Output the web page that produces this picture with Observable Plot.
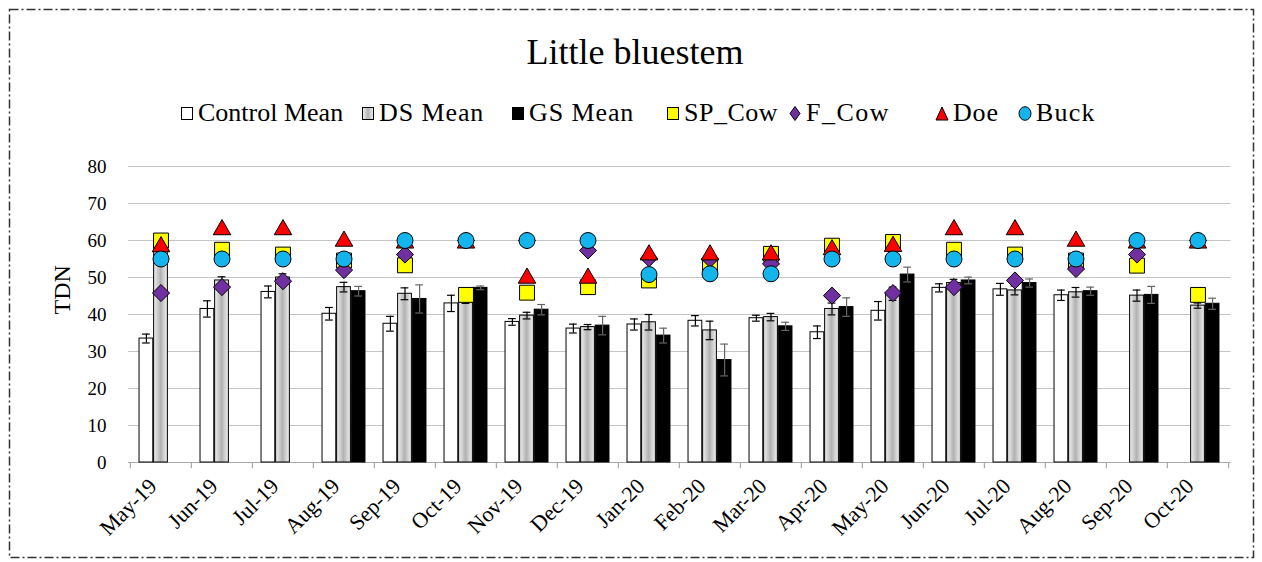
<!DOCTYPE html>
<html><head><meta charset="utf-8">
<script src="https://cdn.jsdelivr.net/npm/d3@7"></script>
<script src="https://cdn.jsdelivr.net/npm/@observablehq/plot@0.6"></script>
<style>
body{margin:0;background:#fff;}
#wrap{position:relative;width:1262px;height:562px;overflow:hidden;font-family:"Liberation Serif","Times New Roman",serif;color:#000;}
#title{position:absolute;top:31px;left:4px;width:1262px;text-align:center;font-size:36px;line-height:normal;}
#legend{position:absolute;top:98px;left:0;width:1262px;height:32px;font-size:26px;line-height:normal;white-space:nowrap;}
.item{position:absolute;top:0;display:flex;align-items:center;}
.item svg{margin-right:4px;}
#chart{position:absolute;top:140px;left:0;}
#border{position:absolute;top:0;left:0;pointer-events:none;}
</style></head>
<body>
<div id="wrap">
  <div id="title">Little bluestem</div>
  <div id="legend"></div>
  <div id="chart"></div>
  <svg id="border" width="1262" height="562"><rect x="9.5" y="9.5" width="1244" height="548" fill="none" stroke="#333" stroke-width="1.5" stroke-dasharray="9,3,2,3"/></svg>
</div>
<script>
const months = ["May-19","Jun-19","Jul-19","Aug-19","Sep-19","Oct-19","Nov-19","Dec-19","Jan-20","Feb-20","Mar-20","Apr-20","May-20","Jun-20","Jul-20","Aug-20","Sep-20","Oct-20"];
const controlMean = [33.5,41.5,46.1,40.2,37.5,43.0,38.0,36.2,37.3,38.3,39.0,35.2,41.0,47.2,46.8,45.2,null,null];
const controlErr  = [1.2,2.2,1.6,1.7,2.0,2.2,0.9,1.2,1.5,1.4,0.8,1.7,2.5,1.1,1.6,1.4,null,null];
const dsMean = [58.0,49.2,50.0,47.4,45.6,44.0,39.7,36.6,37.9,35.7,39.3,41.5,45.6,48.5,46.5,46.0,45.1,42.4];
const dsErr  = [1.0,1.0,1.0,1.3,1.6,1.0,0.9,0.7,2.1,2.5,1.0,1.6,1.8,1.0,1.2,1.3,1.5,0.7];
const gsMean = [null,null,null,46.3,44.2,47.2,41.3,37.0,34.3,27.7,36.8,42.0,50.8,49.2,48.5,46.3,45.3,42.9];
const gsErr  = [null,null,null,1.3,3.8,0.5,1.4,2.5,2.0,4.3,1.1,2.5,2.0,0.9,1.1,1.1,2.3,1.5];
const spCow = [60.0,57.5,56.2,54.6,53.3,45.3,45.9,47.4,49.2,53.2,56.4,58.6,59.6,57.5,56.2,54.6,53.2,45.3];
const fCow  = [45.8,47.4,49.0,52.0,56.2,60.0,60.0,57.3,55.2,55.0,53.7,45.1,45.8,47.4,49.2,52.3,56.2,60.0];
const doe   = [59.0,63.6,63.6,60.5,60.0,60.0,50.5,50.5,56.8,56.8,56.8,58.2,59.1,63.6,63.6,60.5,60.0,60.0];
const buck  = [55,55,55,55,60,60,60,60,50.8,51,51,55,55,55,55,55,60,60];
const yTicks = [0,10,20,30,40,50,60,70,80];
const legendLabels = ["Control Mean","DS Mean","GS Mean","SP_Cow","F_Cow","Doe","Buck"];

const rows = months.map((m,i)=>({month:m, control:controlMean[i], controlErr:controlErr[i], ds:dsMean[i], dsErr:dsErr[i], gs:gsMean[i], gsErr:gsErr[i], sp:spCow[i], f:fCow[i], doe:doe[i], buck:buck[i]}));

const left = 128, right = 1230.5;
const BW = (right-left)/months.length;
const barW = 14, step = 14.6, inset = (BW-barW)/2, cap = 4;
const num = v => (v==null ? NaN : v);

const series = [
  {key:"control", err:"controlErr", dx:-step, fill:"white", es:"#000"},
  {key:"ds", err:"dsErr", dx:0, fill:"url(#dsgrad)", es:"#000"},
  {key:"gs", err:"gsErr", dx:step, fill:"black", es:"#666"}
];

const marks = [
  Plot.gridY(yTicks.filter(t=>t>0), {stroke:"#c4c4c4", strokeOpacity:1, strokeWidth:1.2}),
  Plot.ruleY([0], {stroke:"#a8a8a8", strokeWidth:1.2}),
  Plot.ruleX(months, {x:d=>d, dx:-BW/2, y1:0, y2:-1.7, stroke:"#a8a8a8", strokeWidth:1.2}),
  Plot.ruleX(months.slice(-1), {x:d=>d, dx:BW/2, y1:0, y2:-1.7, stroke:"#a8a8a8", strokeWidth:1.2}),
  Plot.axisX({tickSize:0, tickRotate:-45, tickPadding:20, dx:-8, fontSize:22, label:null}),
  Plot.axisY({ticks:yTicks, tickSize:0, tickPadding:22, fontSize:19, label:null}),
  Plot.text(["TDN"], {frameAnchor:"left", rotate:-90, dx:-66, fontSize:24})
];
for (const s of series) {
  marks.push(
    Plot.rectY(rows, {x:"month", y1:0, y2:d=>num(d[s.key]), dx:s.dx, insetLeft:inset, insetRight:inset, fill:s.fill, stroke:"#000", strokeWidth:1}),
    Plot.ruleX(rows, {x:"month", y1:d=>num(d[s.key])-num(d[s.err]), y2:d=>num(d[s.key])+num(d[s.err]), dx:s.dx, stroke:s.es, strokeWidth:1.2}),
    Plot.tickY(rows, {x:"month", y:d=>num(d[s.key])+num(d[s.err]), dx:s.dx, insetLeft:BW/2-cap, insetRight:BW/2-cap, stroke:s.es, strokeWidth:1.2}),
    Plot.tickY(rows, {x:"month", y:d=>num(d[s.key])-num(d[s.err]), dx:s.dx, insetLeft:BW/2-cap, insetRight:BW/2-cap, stroke:s.es, strokeWidth:1.2})
  );
}
marks.push(
  Plot.dot(rows, {x:"month", y:"sp", symbol:"square", r:8.4, fill:"#ffff00", stroke:"#000", strokeWidth:1}),
  Plot.dot(rows, {x:"month", y:"f", symbol:"diamond2", r:7.7, fill:"#7030a0", stroke:"#000", strokeWidth:1}),
  Plot.dot(rows, {x:"month", y:"doe", symbol:"triangle", r:6.5, dy:2.5, fill:"#ff0000", stroke:"#000", strokeWidth:1}),
  Plot.dot(rows, {x:"month", y:"buck", symbol:"circle", r:8, fill:"#14b4ec", stroke:"#000", strokeWidth:1})
);

const chart = Plot.plot({
  width:1262, height:422,
  marginLeft:left, marginRight:1262-right, marginTop:26, marginBottom:100,
  style:{fontFamily:"'Liberation Serif','Times New Roman',serif", color:"#000", background:"transparent", overflow:"visible"},
  x:{type:"band", domain:months, padding:0, axis:null},
  y:{domain:[0,80], axis:null},
  marks
});
const defs = document.createElementNS("http://www.w3.org/2000/svg","defs");
defs.innerHTML = '<linearGradient id="dsgrad" x1="0" x2="1" y1="0" y2="0"><stop offset="0" stop-color="#f0f0f0"/><stop offset="0.5" stop-color="#b2b2b2"/><stop offset="1" stop-color="#f0f0f0"/></linearGradient>';
chart.prepend(defs);
document.getElementById("chart").appendChild(chart);

// legend
const legendStyle = [
  {shape:"rect", fill:"#fff", x:180, ls:0},
  {shape:"rect", fill:"url(#lgrad)", x:361, ls:0.9},
  {shape:"rect", fill:"#000", x:511, ls:0.9},
  {shape:"rect", fill:"#ffff00", x:666, ls:0.5},
  {shape:"diamond", fill:"#7030a0", x:788, ls:1.5},
  {shape:"triangle", fill:"#ff0000", x:935, ls:0.8},
  {shape:"circle", fill:"#14b4ec", x:1018, ls:1.2}
];
const lg = document.getElementById("legend");
legendLabels.forEach((label,i)=>{
  const it = legendStyle[i];
  const div = document.createElement("div"); div.className = "item"; div.style.left = it.x + "px";
  let shp;
  if (it.shape==="rect") shp = `<rect x="1.5" y="1.5" width="11" height="12" fill="${it.fill}" stroke="#000" stroke-width="1"/>`;
  else if (it.shape==="diamond") shp = `<path d="M7,0.5L12,7.5L7,14.5L2,7.5Z" fill="${it.fill}" stroke="#000"/>`;
  else if (it.shape==="triangle") shp = `<path d="M7,1L13,14L1,14Z" fill="${it.fill}" stroke="#000"/>`;
  else shp = `<ellipse cx="7" cy="7.5" rx="6" ry="6.8" fill="${it.fill}" stroke="#000"/>`;
  div.innerHTML = `<svg width="14" height="15"><defs><linearGradient id="lgrad" x1="0" x2="1"><stop offset="0" stop-color="#f0f0f0"/><stop offset="0.5" stop-color="#b2b2b2"/><stop offset="1" stop-color="#f0f0f0"/></linearGradient></defs>${shp}</svg><span style="letter-spacing:${it.ls}px">${label}</span>`;
  lg.appendChild(div);
});
</script>
</body></html>
